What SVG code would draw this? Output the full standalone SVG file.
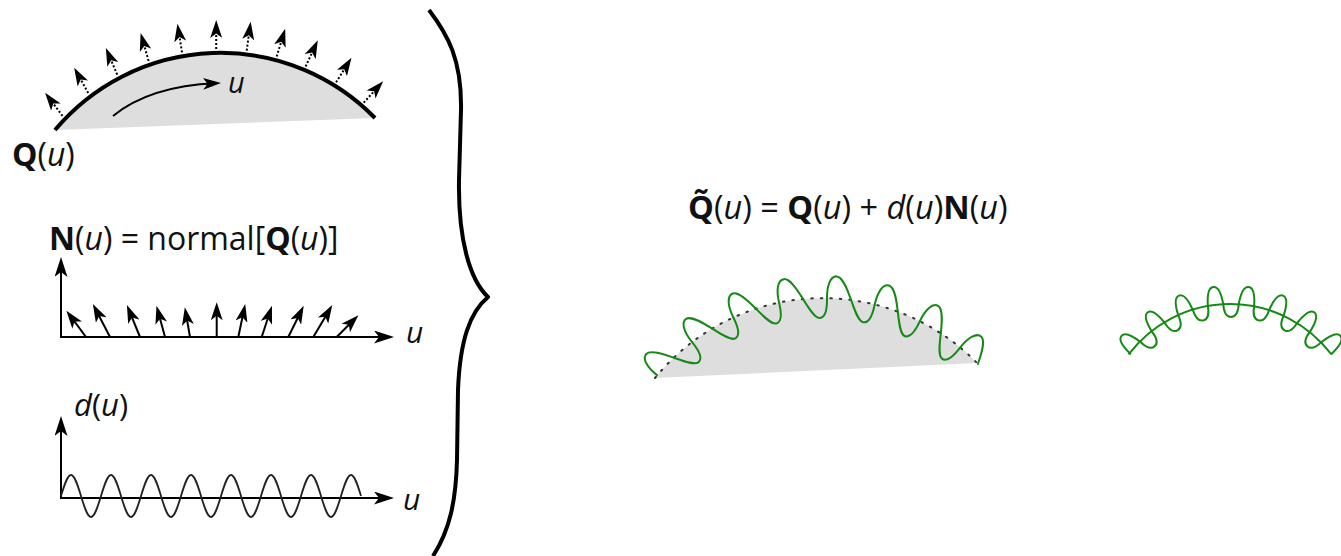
<svg xmlns="http://www.w3.org/2000/svg" xmlns:xlink="http://www.w3.org/1999/xlink" width="1341" height="556" viewBox="0 0 1341 556">
<style>
text{font-family:"Open Sans","Noto Sans","Liberation Sans",sans-serif;fill:#111}
.b{font-weight:700}
.i{font-style:italic}
.ax{fill:none;stroke:#000;stroke-width:2;marker-end:url(#ahx)}
.nv{fill:none;stroke:#000;stroke-width:2;marker-end:url(#ah)}
.dn{fill:none;stroke:#000;stroke-width:2;stroke-dasharray:2 2;marker-end:url(#ah)}
.gw{fill:none;stroke:#168a16;stroke-width:2;stroke-linecap:round;stroke-linejoin:round}
.gray{fill:#dedede;stroke:none}
</style>
<defs>
<marker id="ah" viewBox="0 0 18 12" refX="13" refY="6" markerWidth="18" markerHeight="12" markerUnits="userSpaceOnUse" orient="auto"><path d="M0,0 L18,6 L0,12 L4.5,6 z" fill="#000"/></marker>
<marker id="ahx" viewBox="0 0 20 13" refX="15" refY="6.5" markerWidth="20" markerHeight="13" markerUnits="userSpaceOnUse" orient="auto"><path d="M0,0 L20,6.5 L0,13 L5,6.5 z" fill="#000"/></marker>
<path id="lo" d="M808.94,298.34 C807.83,286.38 810.5,276 817,276 C823,276 828.57,288.07 833.06,298.34"/>
<path id="li" d="M808.94,298.34 C814.55,308.04 820,318 825,318 C830,318 832.83,310.35 833.06,298.34"/>
<path id="ro" d="M1224.25,304.24 C1224.8,294 1226.5,286 1232,286 C1237.5,286 1239.2,294 1239.75,304.24"/>
<path id="ri" d="M1224.25,304.24 C1224.8,312 1227,317 1232,317 C1237,317 1239.2,312 1239.75,304.24"/>
</defs>

<g id="surface">
<path class="gray" d="M55,130 A216,216 0 0 1 375,118 Z"/>
<path d="M55,130 A216,216 0 0 1 375,118" fill="none" stroke="#000" stroke-width="4"/>
<path d="M113,116 Q150,86 216,83.3" class="nv" stroke-width="1.8"/>
<text x="228" y="93" font-size="29" class="i">u</text>
<text x="12" y="166" font-size="32"><tspan class="b">Q</tspan>(<tspan class="i">u</tspan>)</text>
</g>

<g id="surface-normals">
<line class="dn" x1="62.5" y1="115.9" x2="48.1" y2="96.7"/>
<line class="dn" x1="88.2" y1="93.1" x2="76.6" y2="72.1"/>
<line class="dn" x1="117.2" y1="74.6" x2="107.8" y2="52.5"/>
<line class="dn" x1="148.6" y1="60.9" x2="142.0" y2="37.8"/>
<line class="dn" x1="182.0" y1="52.3" x2="178.2" y2="28.6"/>
<line class="dn" x1="216.2" y1="49.0" x2="216.2" y2="25.0"/>
<line class="dn" x1="246.7" y1="50.6" x2="250.0" y2="26.8"/>
<line class="dn" x1="276.7" y1="56.5" x2="283.7" y2="33.6"/>
<line class="dn" x1="305.6" y1="66.5" x2="315.7" y2="44.8"/>
<line class="dn" x1="336.1" y1="82.3" x2="348.8" y2="62.0"/>
<line class="dn" x1="363.7" y1="102.7" x2="379.8" y2="84.9"/>
</g>

<g id="normal-graph">
<text x="49" y="250" font-size="32"><tspan class="b">N</tspan>(<tspan class="i">u</tspan>) = normal[<tspan class="b">Q</tspan>(<tspan class="i">u</tspan>)]</text>
<path class="ax" d="M61,337 L61,262"/>
<path class="ax" d="M60,337 L389,337"/>
<text x="406" y="343" font-size="30" class="i">u</text>
<line class="nv" x1="86" y1="337" x2="69.4" y2="314.7"/>
<line class="nv" x1="110" y1="337" x2="95.2" y2="308.5"/>
<line class="nv" x1="140" y1="337" x2="128.8" y2="309.7"/>
<line class="nv" x1="165" y1="337" x2="157.8" y2="310.6"/>
<line class="nv" x1="190" y1="337" x2="185.7" y2="312.2"/>
<line class="nv" x1="216.7" y1="337" x2="216.7" y2="307.3"/>
<line class="nv" x1="238.3" y1="337" x2="244.2" y2="308.9"/>
<line class="nv" x1="261.7" y1="337" x2="270.4" y2="310.5"/>
<line class="nv" x1="288.3" y1="337" x2="301.5" y2="310.3"/>
<line class="nv" x1="313.3" y1="337" x2="329.7" y2="309.4"/>
<line class="nv" x1="336.7" y1="337" x2="354.9" y2="318.8"/>
</g>

<g id="displacement-graph">
<text x="74" y="416" font-size="31"><tspan class="i">d</tspan>(<tspan class="i">u</tspan>)</text>
<path class="ax" d="M61,498 L61,421"/>
<path class="ax" d="M60,498 L389,498"/>
<text x="403" y="510" font-size="30" class="i">u</text>
<path fill="none" stroke="#222" stroke-width="1.8" d="M61,496 c3.26,-10.76 6.39,-21 10,-21 s6.74,10.24 10,21 s6.39,21 10,21 s6.74,-10.24 10,-21 s6.39,-21 10,-21 s6.74,10.24 10,21 s6.39,21 10,21 s6.74,-10.24 10,-21 s6.39,-21 10,-21 s6.74,10.24 10,21 s6.39,21 10,21 s6.74,-10.24 10,-21 s6.39,-21 10,-21 s6.74,10.24 10,21 s6.39,21 10,21 s6.74,-10.24 10,-21 s6.39,-21 10,-21 s6.74,10.24 10,21 s6.39,21 10,21 s6.74,-10.24 10,-21 s6.39,-21 10,-21 s6.74,10.24 10,21 s6.39,21 10,21 s6.74,-10.24 10,-21 s6.39,-21 10,-21 s6.74,10.24 10,21 s6.39,21 10,21 s6.74,-10.24 10,-21 s6.39,-21 10,-21 s6.74,10.24 10,21"/>
</g>

<g id="brace">
<path fill="none" stroke="#000" stroke-width="4" stroke-linejoin="round" d="M429,10 C448,35 462,60 461,110 L459,180 C458,240 470,280 488,297 C470,312 460,340 458,390 L457,460 C456,500 450,530 433,556"/>
</g>

<g id="formula">
<text x="688" y="219" font-size="32.5"><tspan class="b">Q&#x303;</tspan>(<tspan class="i">u</tspan>) = <tspan class="b">Q</tspan>(<tspan class="i">u</tspan>) + <tspan class="i">d</tspan>(<tspan class="i">u</tspan>)<tspan class="b">N</tspan>(<tspan class="i">u</tspan>)</text>
</g>

<g id="displaced-surface">
<path class="gray" d="M655,378 A216,216 0 0 1 977,363 Z"/>
<path d="M655,378 A216,216 0 0 1 977,363" fill="none" stroke="#333" stroke-width="2" stroke-dasharray="1.5 8" stroke-linecap="round"/>
<g class="gw" transform="translate(1.5,0)">
<use xlink:href="#lo" transform="rotate(-46.8 821 514)"/>
<use xlink:href="#li" transform="rotate(-40.4 821 514)"/>
<use xlink:href="#lo" transform="rotate(-34 821 514)"/>
<use xlink:href="#li" transform="rotate(-27.6 821 514)"/>
<use xlink:href="#lo" transform="rotate(-21.2 821 514)"/>
<use xlink:href="#li" transform="rotate(-14.8 821 514)"/>
<use xlink:href="#lo" transform="rotate(-8.4 821 514)"/>
<use xlink:href="#li" transform="rotate(-2 821 514)"/>
<use xlink:href="#lo" transform="rotate(4.4 821 514)"/>
<use xlink:href="#li" transform="rotate(10.8 821 514)"/>
<use xlink:href="#lo" transform="rotate(17.2 821 514)"/>
<use xlink:href="#li" transform="rotate(23.6 821 514)"/>
<use xlink:href="#lo" transform="rotate(30 821 514)"/>
<use xlink:href="#li" transform="rotate(36.4 821 514)"/>
<use xlink:href="#lo" transform="rotate(42.8 821 514)"/>
</g>
</g>

<g id="displaced-curve">
<path class="gw" d="M1130.2,353.7 A127,127 0 0 1 1331.8,353.7" transform="translate(-1,0)"/>
<g class="gw" transform="translate(-1,0)" stroke-width="2.4">
<use xlink:href="#ro" transform="rotate(-49 1232 431)"/>
<use xlink:href="#ri" transform="rotate(-42 1232 431)"/>
<use xlink:href="#ro" transform="rotate(-35 1232 431)"/>
<use xlink:href="#ri" transform="rotate(-28 1232 431)"/>
<use xlink:href="#ro" transform="rotate(-21 1232 431)"/>
<use xlink:href="#ri" transform="rotate(-14 1232 431)"/>
<use xlink:href="#ro" transform="rotate(-7 1232 431)"/>
<use xlink:href="#ri" transform="rotate(0 1232 431)"/>
<use xlink:href="#ro" transform="rotate(7 1232 431)"/>
<use xlink:href="#ri" transform="rotate(14 1232 431)"/>
<use xlink:href="#ro" transform="rotate(21 1232 431)"/>
<use xlink:href="#ri" transform="rotate(28 1232 431)"/>
<use xlink:href="#ro" transform="rotate(35 1232 431)"/>
<use xlink:href="#ri" transform="rotate(42 1232 431)"/>
<use xlink:href="#ro" transform="rotate(49 1232 431)"/>
</g>
</g>
</svg>
